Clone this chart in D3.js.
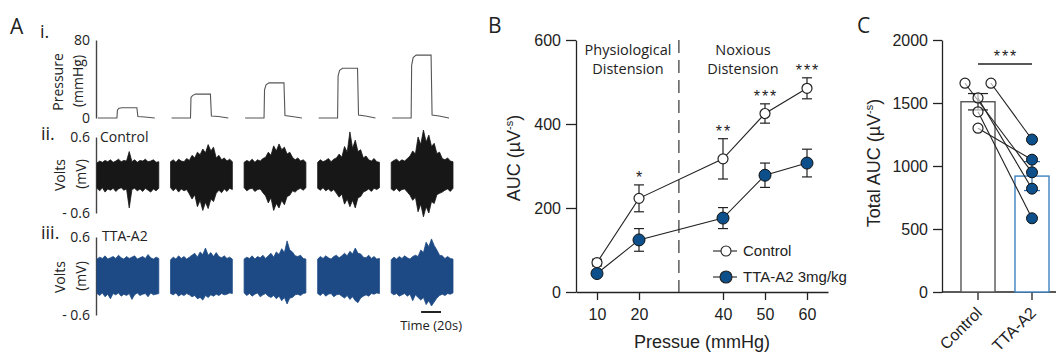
<!DOCTYPE html>
<html>
<head>
<meta charset="utf-8">
<script src="https://cdn.jsdelivr.net/npm/d3@7"></script>
<style>
  body { margin: 0; background: #fff; }
  text { font-family: "Liberation Sans", Arial, sans-serif; fill: #222; }
  .myr { font-family: "Open Sans", "Noto Sans", sans-serif; }
</style>
</head>
<body>
<svg id="chart"></svg>
<script>
// ---------- panel A : raw recordings ----------
const sweeps = ['10', '20', '40', '50', '60'];
// pressure trace, time (s) within each sweep and pressure (mmHg)
const pressTime = [1, 20, 20.5, 22, 25, 40, 41, 48, 58];
const pressValues = [
  [0, 0, 8, 10, 10.5, 10.5, 1.5, 1, 0],
  [0, 0, 21, 23, 24.5, 24.5, 2, 1.5, 0],
  [0, 0, 29, 34, 36, 36, 2.5, 1.5, 0],
  [0, 0, 43, 49, 51, 51, 3, 2, 0],
  [0, 0, 54, 62, 64.5, 64.5, 3, 2, 0],
];
// nerve activity envelopes (mV), 24 samples per sweep
const ctrlTop = [
  [0.19, 0.22, 0.20, 0.23, 0.21, 0.24, 0.20, 0.22, 0.25, 0.21, 0.23, 0.22, 0.37, 0.21, 0.24, 0.20, 0.23, 0.22, 0.25, 0.21, 0.22, 0.24, 0.20, 0.21],
  [0.21, 0.24, 0.20, 0.25, 0.22, 0.21, 0.26, 0.23, 0.31, 0.27, 0.36, 0.32, 0.41, 0.35, 0.48, 0.38, 0.44, 0.27, 0.31, 0.24, 0.27, 0.22, 0.25, 0.21],
  [0.20, 0.23, 0.21, 0.25, 0.20, 0.24, 0.22, 0.26, 0.28, 0.36, 0.31, 0.46, 0.38, 0.49, 0.40, 0.44, 0.33, 0.36, 0.28, 0.24, 0.27, 0.22, 0.24, 0.20],
  [0.20, 0.24, 0.21, 0.23, 0.26, 0.21, 0.25, 0.27, 0.33, 0.28, 0.45, 0.36, 0.68, 0.42, 0.55, 0.37, 0.40, 0.27, 0.30, 0.24, 0.22, 0.26, 0.21, 0.20],
  [0.20, 0.23, 0.25, 0.21, 0.24, 0.22, 0.26, 0.30, 0.38, 0.33, 0.60, 0.48, 0.71, 0.52, 0.63, 0.45, 0.50, 0.34, 0.36, 0.26, 0.24, 0.27, 0.22, 0.21],
];
const ctrlBot = [
  [-0.21, -0.25, -0.20, -0.27, -0.22, -0.24, -0.21, -0.26, -0.22, -0.20, -0.24, -0.22, -0.52, -0.23, -0.21, -0.25, -0.22, -0.26, -0.21, -0.24, -0.27, -0.22, -0.25, -0.21],
  [-0.20, -0.25, -0.21, -0.27, -0.22, -0.25, -0.23, -0.30, -0.38, -0.31, -0.50, -0.40, -0.56, -0.43, -0.53, -0.38, -0.42, -0.29, -0.24, -0.28, -0.22, -0.26, -0.21, -0.23],
  [-0.20, -0.25, -0.22, -0.21, -0.26, -0.23, -0.22, -0.28, -0.33, -0.44, -0.36, -0.56, -0.45, -0.52, -0.40, -0.47, -0.34, -0.32, -0.25, -0.27, -0.23, -0.21, -0.24, -0.20],
  [-0.21, -0.24, -0.20, -0.25, -0.22, -0.26, -0.23, -0.29, -0.35, -0.30, -0.46, -0.38, -0.50, -0.40, -0.52, -0.36, -0.34, -0.27, -0.25, -0.22, -0.26, -0.21, -0.23, -0.20],
  [-0.22, -0.25, -0.21, -0.26, -0.23, -0.22, -0.27, -0.32, -0.40, -0.35, -0.58, -0.46, -0.66, -0.50, -0.60, -0.42, -0.45, -0.31, -0.29, -0.27, -0.24, -0.22, -0.26, -0.21],
];
const ttaTop = [
  [0.26, 0.29, 0.27, 0.31, 0.26, 0.28, 0.30, 0.27, 0.32, 0.28, 0.26, 0.30, 0.27, 0.29, 0.31, 0.26, 0.28, 0.30, 0.27, 0.33, 0.28, 0.26, 0.29, 0.27],
  [0.25, 0.29, 0.26, 0.31, 0.27, 0.30, 0.26, 0.29, 0.32, 0.35, 0.29, 0.37, 0.33, 0.43, 0.32, 0.36, 0.30, 0.36, 0.30, 0.28, 0.31, 0.27, 0.29, 0.26],
  [0.26, 0.29, 0.27, 0.31, 0.26, 0.30, 0.28, 0.32, 0.27, 0.31, 0.35, 0.29, 0.37, 0.33, 0.42, 0.36, 0.54, 0.40, 0.37, 0.31, 0.30, 0.32, 0.27, 0.26],
  [0.26, 0.30, 0.27, 0.31, 0.28, 0.26, 0.30, 0.32, 0.28, 0.31, 0.35, 0.31, 0.38, 0.34, 0.43, 0.35, 0.34, 0.29, 0.28, 0.32, 0.27, 0.30, 0.26, 0.27],
  [0.25, 0.29, 0.26, 0.30, 0.27, 0.31, 0.28, 0.26, 0.30, 0.32, 0.30, 0.40, 0.36, 0.52, 0.45, 0.57, 0.47, 0.40, 0.32, 0.31, 0.27, 0.30, 0.27, 0.26],
];
const ttaBot = [
  [-0.27, -0.30, -0.26, -0.32, -0.28, -0.35, -0.27, -0.29, -0.26, -0.31, -0.28, -0.30, -0.27, -0.36, -0.29, -0.26, -0.30, -0.28, -0.27, -0.32, -0.26, -0.29, -0.28, -0.27],
  [-0.27, -0.29, -0.26, -0.31, -0.28, -0.30, -0.27, -0.29, -0.32, -0.30, -0.35, -0.33, -0.37, -0.30, -0.33, -0.29, -0.31, -0.28, -0.30, -0.27, -0.29, -0.28, -0.26, -0.27],
  [-0.26, -0.30, -0.27, -0.31, -0.28, -0.26, -0.32, -0.29, -0.27, -0.31, -0.33, -0.30, -0.35, -0.31, -0.38, -0.33, -0.43, -0.34, -0.33, -0.29, -0.28, -0.30, -0.27, -0.26],
  [-0.27, -0.30, -0.26, -0.31, -0.28, -0.27, -0.32, -0.29, -0.28, -0.31, -0.34, -0.30, -0.36, -0.32, -0.38, -0.41, -0.34, -0.31, -0.29, -0.31, -0.27, -0.28, -0.26, -0.27],
  [-0.26, -0.29, -0.27, -0.31, -0.29, -0.27, -0.31, -0.28, -0.38, -0.29, -0.33, -0.37, -0.33, -0.44, -0.38, -0.46, -0.40, -0.34, -0.30, -0.28, -0.30, -0.27, -0.28, -0.26],
];

// ---------- panel B : AUC vs pressure ----------
const pressures = [10, 20, 40, 50, 60];
const ctrlMean = [70, 223, 317, 425, 485];
const ctrlSem = [8, 32, 48, 23, 25];
const ttaMean = [44, 124, 176, 278, 307];
const ttaSem = [5, 27, 25, 29, 33];
const stars = ['', '*', '**', '***', '***'];

// ---------- panel C : total AUC ----------
const groups = ['Control', 'TTA-A2'];
const groupMean = [1510, 920];
const groupSem = [65, 115];
const ctrlTotal = [1657, 1657, 1540, 1430, 1300];
const ttaTotal = [950, 1210, 820, 585, 1050];

const W = 1058, H = 356;
const svg = d3.select('#chart').attr('width', W).attr('height', H);
svg.append('rect').attr('width', W).attr('height', H).attr('fill', '#fff');

const dark = '#222';
const traceBlue = '#1d4a85';
const dotBlue = '#0c4f8a';
const barBlue = '#3d82c0';

// ================= A =================
const gA = svg.append('g');
const sweepX = d3.scaleBand().domain(sweeps).range([97, 453]).paddingInner(0.16);
const tX = d3.scaleLinear().domain([0, 62]).range([0, sweepX.bandwidth()]);
const pY = d3.scaleLinear().domain([0, 80]).range([118, 40]);
const vY2 = d3.scaleLinear().domain([-0.6, 0.6]).range([213, 137]);
const vY3 = d3.scaleLinear().domain([-0.6, 0.6]).range([315, 237]);

const voltFmt = (d) => (d < 0 ? '- ' + Math.abs(d) : String(d));

function smallAxis(scale, vals, fmt) {
  const g = gA.append('g')
    .attr('transform', 'translate(96,0)')
    .call(d3.axisLeft(scale).tickValues(vals).tickSize(0).tickPadding(6).tickSizeOuter(0).tickFormat(fmt));
  g.select('.domain').attr('stroke', '#444').attr('stroke-width', 1.4);
  g.selectAll('text').attr('class', 'myr').style('font-size', '14px').attr('fill', dark);
  g.attr('font-family', null).attr('font-size', null);
}
smallAxis(pY, [0, 80], d3.format('d'));
smallAxis(vY2, [-0.6, 0.6], voltFmt);
smallAxis(vY3, [-0.6, 0.6], voltFmt);

const pLine = d3.line().x((d, i) => tX(pressTime[i])).y((d) => pY(d));
gA.append('g').selectAll('path')
  .data(pressValues)
  .enter()
  .append('path')
    .attr('transform', (d, i) => `translate(${sweepX(sweeps[i])},0)`)
    .attr('d', pLine)
    .attr('fill', 'none')
    .attr('stroke', '#555')
    .attr('stroke-width', 1.1);

function traceRow(tops, bots, y, color) {
  const n = tops[0].length;
  gA.append('g').selectAll('path')
    .data(sweeps)
    .enter()
    .append('path')
      .attr('transform', (d) => `translate(${sweepX(d)},0)`)
      .attr('d', (d, k) => d3.area()
        .x((v, i) => tX(i * 62 / (n - 1)))
        .y0((v, i) => y(bots[k][i]))
        .y1((v) => y(v))
        .curve(d3.curveLinear)(tops[k]))
      .attr('fill', color)
      .attr('stroke', color)
      .attr('stroke-width', 0.8)
      .attr('stroke-linejoin', 'miter');
}
traceRow(ctrlTop, ctrlBot, vY2, '#171717');
traceRow(ttaTop, ttaBot, vY3, traceBlue);

// labels
const addText = (g, x, y, str, size, cls, anchor) => g.append('text')
  .attr('x', x).attr('y', y).attr('class', cls || null)
  .attr('text-anchor', anchor || 'start')
  .style('font-size', size + 'px').text(str);

addText(gA, 10, 34, 'A', 21, 'myr');
addText(gA, 40, 38, 'i.', 18, 'myr');
addText(gA, 41, 140, 'ii.', 18, 'myr');
addText(gA, 41, 239, 'iii.', 18, 'myr');
addText(gA, 100, 142, 'Control', 14, 'myr');
addText(gA, 102, 241, 'TTA-A2', 14, 'myr');

const rotLabel = (g, x, y, str, size, cls) => g.append('text')
  .attr('class', cls || null)
  .attr('transform', `translate(${x},${y}) rotate(-90)`)
  .attr('text-anchor', 'middle')
  .style('font-size', size + 'px')
  .text(str);
rotLabel(gA, 63, 82, 'Pressure', 14, 'myr');
rotLabel(gA, 83, 81, '(mmHg)', 14, 'myr');
rotLabel(gA, 65, 175, 'Volts', 14, 'myr');
rotLabel(gA, 86, 174, '(mV)', 14, 'myr');
rotLabel(gA, 65, 277, 'Volts', 14, 'myr');
rotLabel(gA, 86, 276, '(mV)', 14, 'myr');

// time scale bar (20 s)
const bar0 = sweepX('60');
gA.append('line')
  .attr('x1', bar0 + tX(30)).attr('x2', bar0 + tX(50))
  .attr('y1', 312).attr('y2', 312)
  .attr('stroke', dark).attr('stroke-width', 2);
addText(gA, bar0 + tX(40), 330, 'Time (20s)', 13, 'myr', 'middle');

// ================= B =================
const gB = svg.append('g');
const xB = d3.scaleLinear().domain([5, 65]).range([576, 828]);
const yB = d3.scaleLinear().domain([0, 600]).range([292, 40]);

function styleAxis(g) {
  g.attr('font-family', null).attr('font-size', null);
  g.selectAll('path, line').attr('stroke', dark).attr('stroke-width', 1.3);
  g.selectAll('text').style('font-size', '16px').attr('fill', dark);
}

gB.append('g')
  .attr('transform', `translate(${xB.range()[0]},0)`)
  .call(d3.axisLeft(yB).tickValues([0, 200, 400, 600]).tickSize(10).tickPadding(5).tickSizeOuter(0))
  .call(styleAxis);
gB.append('g')
  .attr('transform', `translate(0,${yB(0)})`)
  .call(d3.axisBottom(xB).tickValues(pressures).tickSize(8).tickPadding(9).tickSizeOuter(0))
  .call(styleAxis);

// dashed boundary between physiological and noxious distension
gB.append('line')
  .attr('x1', xB(29.5)).attr('x2', xB(29.5))
  .attr('y1', yB(600)).attr('y2', yB(0))
  .attr('stroke', '#333').attr('stroke-width', 1.2)
  .attr('stroke-dasharray', '13,7');

addText(gB, 628, 55, 'Physiological', 14.5, 'myr', 'middle');
addText(gB, 628, 74, 'Distension', 14.5, 'myr', 'middle');
addText(gB, 743, 55, 'Noxious', 14.5, 'myr', 'middle');
addText(gB, 743, 74, 'Distension', 14.5, 'myr', 'middle');

addText(gB, 488, 33, 'B', 21, 'myr');
addText(gB, 702, 348, 'Pressue (mmHg)', 18, null, 'middle');

function unitLabel(g, x, y, prefix) {
  const t = g.append('text')
    .attr('transform', `translate(${x},${y}) rotate(-90)`)
    .attr('text-anchor', 'middle')
    .style('font-size', '18px');
  t.append('tspan').text(prefix + ' (\u00b5V');
  t.append('tspan').attr('dy', -7).style('font-size', '11px').text('-s');
  t.append('tspan').attr('dy', 7).text(')');
}
unitLabel(gB, 520, 158, 'AUC');

const bLine = d3.line().x((d, i) => xB(pressures[i])).y((d) => yB(d));
gB.append('path').attr('d', bLine(ttaMean)).attr('fill', 'none').attr('stroke', dark).attr('stroke-width', 1.1);
gB.append('path').attr('d', bLine(ctrlMean)).attr('fill', 'none').attr('stroke', dark).attr('stroke-width', 1.1);

function errorBars(g, xs, means, sems, xScale, yScale, cap, color) {
  const eg = g.append('g').attr('stroke', color).attr('stroke-width', 1.2);
  eg.selectAll('line.v').data(means).enter().append('line')
    .attr('x1', (d, i) => xScale(xs[i])).attr('x2', (d, i) => xScale(xs[i]))
    .attr('y1', (d, i) => yScale(d + sems[i])).attr('y2', (d, i) => yScale(d - sems[i]));
  [1, -1].forEach((s) => {
    eg.selectAll(null).data(means).enter().append('line')
      .attr('x1', (d, i) => xScale(xs[i]) - cap).attr('x2', (d, i) => xScale(xs[i]) + cap)
      .attr('y1', (d, i) => yScale(d + s * sems[i])).attr('y2', (d, i) => yScale(d + s * sems[i]));
  });
}
errorBars(gB, pressures, ttaMean, ttaSem, xB, yB, 5, dark);
errorBars(gB, pressures, ctrlMean, ctrlSem, xB, yB, 5, dark);

gB.append('g').selectAll('circle').data(ttaMean).enter().append('circle')
  .attr('cx', (d, i) => xB(pressures[i])).attr('cy', (d) => yB(d)).attr('r', 6)
  .attr('fill', dotBlue).attr('stroke', '#111').attr('stroke-width', 1);
gB.append('g').selectAll('circle').data(ctrlMean).enter().append('circle')
  .attr('cx', (d, i) => xB(pressures[i])).attr('cy', (d) => yB(d)).attr('r', 5)
  .attr('fill', '#fff').attr('stroke', dark).attr('stroke-width', 1.2);

gB.append('g').selectAll('text').data(stars).enter().append('text')
  .attr('x', (d, i) => xB(pressures[i]) + 1)
  .attr('y', (d, i) => yB(ctrlMean[i] + ctrlSem[i]) - 2)
  .attr('text-anchor', 'middle')
  .style('font-size', '16px')
  .style('letter-spacing', '2px')
  .attr('fill', '#444')
  .text((d) => d);

// legend
const legend = gB.append('g');
[['Control', '#fff', 5, 251], ['TTA-A2 3mg/kg', dotBlue, 6, 277]].forEach(([name, fill, r, y]) => {
  legend.append('line').attr('x1', 713).attr('x2', 737).attr('y1', y).attr('y2', y)
    .attr('stroke', dark).attr('stroke-width', 1.1);
  legend.append('circle').attr('cx', 726).attr('cy', y).attr('r', r)
    .attr('fill', fill).attr('stroke', dark).attr('stroke-width', 1.1);
  addText(legend, 743, y + 5, name, 15);
});

// ================= C =================
const gC = svg.append('g');
const axisXC = 942;
const xC = d3.scaleBand().domain(groups).range([951, 1059]).paddingInner(0.37).paddingOuter(0.185);
const yC = d3.scaleLinear().domain([0, 2000]).range([292, 40]);
const mid = (g) => xC(g) + xC.bandwidth() / 2;

gC.append('g')
  .attr('transform', `translate(${axisXC},0)`)
  .call(d3.axisLeft(yC).tickValues([0, 500, 1000, 1500, 2000]).tickFormat(d3.format('d'))
    .tickSize(9).tickPadding(5).tickSizeOuter(0))
  .call(styleAxis);
gC.append('line').attr('x1', axisXC).attr('x2', 1056).attr('y1', yC(0)).attr('y2', yC(0))
  .attr('stroke', dark).attr('stroke-width', 1.3);
const xAxisC = gC.append('g')
  .attr('transform', `translate(0,${yC(0)})`)
  .call(d3.axisBottom(xC).tickSize(8).tickSizeOuter(0))
  .call(styleAxis);
xAxisC.select('.domain').remove();
xAxisC.selectAll('text')
  .attr('x', 0).attr('y', 0).attr('dy', 0)
  .attr('text-anchor', 'end')
  .attr('transform', 'translate(5,22) rotate(-45)')
  .style('font-size', '16px');

addText(gC, 857, 33, 'C', 21, 'myr');
unitLabel(gC, 880, 163, 'Total AUC');

// bars
gC.append('g').selectAll('rect').data(groupMean).enter().append('rect')
  .attr('x', (d, i) => xC(groups[i]))
  .attr('y', (d) => yC(d))
  .attr('width', xC.bandwidth())
  .attr('height', (d) => yC(0) - yC(d))
  .attr('fill', '#fff')
  .attr('stroke', (d, i) => (i === 0 ? '#555' : barBlue))
  .attr('stroke-width', 1.4);

// control points that share a value are spread sideways
const ctrlX = ctrlTotal.map((v, i) => {
  const same = ctrlTotal.map((w, j) => j).filter((j) => ctrlTotal[j] === v);
  if (same.length < 2) return mid('Control');
  return mid('Control') + (same.indexOf(i) === 0 ? -13 : 13);
});

errorBars(gC, [0], [groupMean[0]], [groupSem[0]], () => mid('Control'), yC, 10, dark);
errorBars(gC, [0], [groupMean[1]], [groupSem[1]], () => mid('TTA-A2'), yC, 8, '#2f6fa8');

gC.append('g').selectAll('line').data(ctrlTotal).enter().append('line')
  .attr('x1', (d, i) => ctrlX[i]).attr('y1', (d) => yC(d))
  .attr('x2', mid('TTA-A2')).attr('y2', (d, i) => yC(ttaTotal[i]))
  .attr('stroke', dark).attr('stroke-width', 1.1);

gC.append('g').selectAll('circle').data(ctrlTotal).enter().append('circle')
  .attr('cx', (d, i) => ctrlX[i]).attr('cy', (d) => yC(d)).attr('r', 5)
  .attr('fill', '#fff').attr('fill-opacity', 0.6).attr('stroke', dark).attr('stroke-width', 1.2);
gC.append('g').selectAll('circle').data(ttaTotal).enter().append('circle')
  .attr('cx', mid('TTA-A2')).attr('cy', (d) => yC(d)).attr('r', 5.5)
  .attr('fill', dotBlue).attr('stroke', '#111').attr('stroke-width', 1);

// significance bracket
gC.append('line').attr('x1', mid('Control')).attr('x2', mid('TTA-A2'))
  .attr('y1', 64).attr('y2', 64).attr('stroke', dark).attr('stroke-width', 1.3);
gC.append('text').attr('x', (mid('Control') + mid('TTA-A2')) / 2 + 1).attr('y', 62)
  .attr('text-anchor', 'middle').style('font-size', '16px').style('letter-spacing', '2px')
  .attr('fill', '#444').text('***');
</script>
</body>
</html>
